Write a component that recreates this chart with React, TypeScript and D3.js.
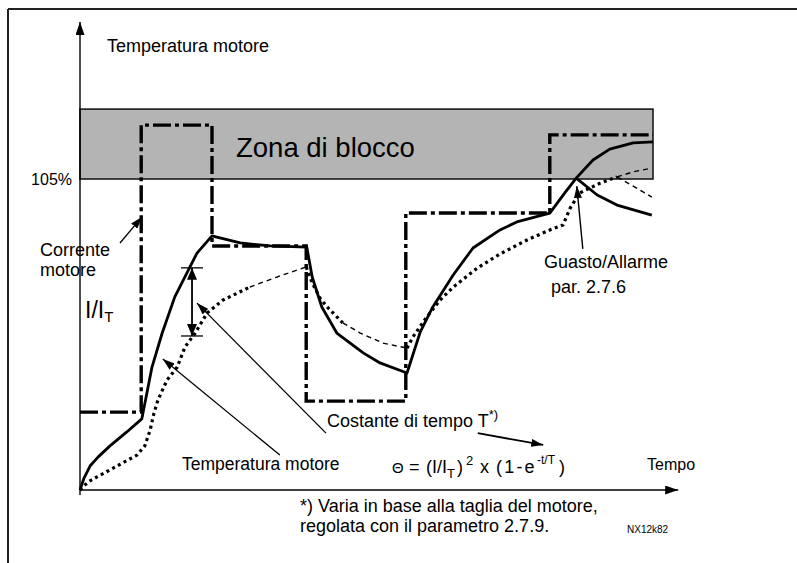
import React from 'react';
import * as d3 from 'd3';

const W = 797;
const H = 563;

// Time in arbitrary units (0..100), temperature / current in % (105 % = trip level)
const currentSteps: [number, number][] = [
  [0, 26.3], [10.2, 123.2], [22, 82.4], [37.7, 30], [54.3, 93.5], [78.3, 119.9], [95.5, 119.9],
];

const motorTemp: [number, number][] = [
  [0, 0], [0.67, 4.05], [1.67, 8.1], [3, 11.1], [5, 14.9], [7.8, 19.6], [10.3, 24.0],
  [12, 41.5], [13.7, 53.0], [15.8, 65.2], [19.5, 80.0], [22, 85.8], [22.8, 85.4],
  [26.7, 83.4], [31.7, 82.4], [37.8, 82.0], [38.7, 71.9], [40.3, 61.8], [42.8, 53.0],
  [47.2, 46.3], [50, 42.9], [54.5, 39.5], [56.7, 53.3], [58.8, 61.8], [62.2, 72.6],
  [65.5, 81.7], [70, 87.8], [72.8, 90.5], [78.3, 93.5], [80.8, 100.3], [82.7, 105.3],
  [85.5, 111.4], [88.3, 115.1], [92.2, 117.2], [95.5, 117.5],
];

const motorTempAfterTrip: [number, number][] = [
  [82.7, 105.3], [86.2, 99.6], [89.5, 96.2], [95.3, 92.8],
];

const thermalModel: [number, number][] = [
  [0, 0], [1.33, 2.7], [2.83, 4.4], [6.17, 8.1], [9.5, 11.8], [10.8, 14.9], [11.7, 20.3],
  [12.3, 25.7], [13, 30.4], [14.5, 37.1], [16.2, 41.5], [17.5, 48.3], [19.2, 53.0],
  [21.2, 59.8], [23.8, 64.1], [28.3, 68.5], [32.8, 71.9], [37.7, 75.3], [38.7, 69.9],
  [40, 64.8], [41.2, 61.8], [43.8, 56.4], [46.7, 53.0], [50.5, 49.6], [54.5, 47.9],
  [55.5, 51.7], [57.8, 58.4], [60, 64.1], [62.2, 68.5], [66.2, 74.9], [70, 79.7],
  [74.5, 84.4], [78.3, 87.8], [80.5, 89.5], [81.7, 95.2], [83.3, 100.3], [86.7, 103.6],
  [89.5, 105.7],
];

const thermalModelUp: [number, number][] = [[89.5, 105.7], [92.2, 107.4], [95.3, 108.7]];
const thermalModelDown: [number, number][] = [[89.5, 105.7], [92.2, 102.6], [95.3, 98.9]];

const tripLevel = 105;
const blockZoneTop = 128.6;
const blockZoneEnd = 95.5;
const yTickLabels = ['105%'];

const FONT = '"Liberation Sans", Arial, Helvetica, sans-serif';

export default function App() {
  const x = d3.scaleLinear().domain([0, 100]).range([80, 680]);
  const y = d3.scaleLinear().domain([0, 105]).range([490, 179]);

  const line = d3
    .line<[number, number]>()
    .x((d) => x(d[0]))
    .y((d) => y(d[1]))
    .curve(d3.curveLinear);
  const stepLine = d3
    .line<[number, number]>()
    .x((d) => x(d[0]))
    .y((d) => y(d[1]))
    .curve(d3.curveStepAfter);

  // style segments of the thermal model curve (thick dots vs thin dashes)
  const thickSegs = [thermalModel.slice(0, 16), thermalModel.slice(17, 22), thermalModel.slice(24)];
  const thinSegs = [thermalModel.slice(15, 18), thermalModel.slice(21, 25)];

  const arrow = (x1: number, y1: number, x2: number, y2: number, sw = 1.3, key?: string) => (
    <line
      key={key}
      x1={x(x1)}
      y1={y(y1)}
      x2={x(x2)}
      y2={y(y2)}
      stroke="#000"
      strokeWidth={sw}
      markerEnd="url(#ah)"
    />
  );

  const dblX = 18.67;

  return (
    <svg
      width={W}
      height={H}
      style={{ position: 'absolute', left: 0, top: 0, background: '#fff' }}
      fontFamily={FONT}
    >
      <defs>
        <marker id="ah" viewBox="0 0 12 8" refX="12" refY="4" markerWidth="12" markerHeight="8"
          markerUnits="userSpaceOnUse" orient="auto">
          <path d="M0,0 L12,4 L0,8 z" fill="#000" />
        </marker>
        <marker id="ah2" viewBox="0 0 12 10" refX="12" refY="5" markerWidth="12" markerHeight="10"
          markerUnits="userSpaceOnUse" orient="auto">
          <path d="M0,0 L12,5 L0,10 z" fill="#000" />
        </marker>
        <marker id="axh" viewBox="0 0 13 9" refX="13" refY="4.5" markerWidth="13" markerHeight="9"
          markerUnits="userSpaceOnUse" orient="auto">
          <path d="M0,0 L13,4.5 L0,9 z" fill="#000" />
        </marker>
      </defs>

      {/* frame */}
      <line x1={8} y1={9} x2={W} y2={9} stroke="#222" strokeWidth={2} />
      <line x1={8} y1={9} x2={8} y2={H} stroke="#222" strokeWidth={2} />

      {/* block zone */}
      <rect
        x={x(0)}
        y={y(blockZoneTop)}
        width={x(blockZoneEnd) - x(0)}
        height={y(tripLevel) - y(blockZoneTop)}
        fill="#b4b4b4"
        stroke="#1a1a1a"
        strokeWidth={1.6}
      />
      <text x={236} y={157} fontSize={27.5} fill="#000">Zona di blocco</text>

      {/* axes */}
      <line x1={x(0)} y1={y(-1.7)} x2={x(0)} y2={y(158)} stroke="#000" strokeWidth={1.4} markerEnd="url(#axh)" />
      <line x1={x(0)} y1={y(0)} x2={x(99.7)} y2={y(0)} stroke="#000" strokeWidth={1.4} markerEnd="url(#axh)" />

      <text x={72} y={y(tripLevel) + 6} fontSize={16} textAnchor="end" fill="#000">{yTickLabels[0]}</text>

      {/* current (dash-dot step line) */}
      <path d={stepLine(currentSteps) || ''} fill="none" stroke="#000" strokeWidth={3.4}
        strokeDasharray="18,4,4,4" />

      {/* thermal model curve */}
      {thickSegs.map((s, i) => (
        <path key={'tk' + i} d={line(s) || ''} fill="none" stroke="#000" strokeWidth={3.2}
          strokeDasharray="3,3.5" />
      ))}
      {thinSegs.map((s, i) => (
        <path key={'tn' + i} d={line(s) || ''} fill="none" stroke="#000" strokeWidth={1.4}
          strokeDasharray="5,4" />
      ))}
      <path d={line(thermalModelUp) || ''} fill="none" stroke="#000" strokeWidth={1.4} strokeDasharray="5,4" />
      <path d={line(thermalModelDown) || ''} fill="none" stroke="#000" strokeWidth={1.4} strokeDasharray="5,4" />

      {/* motor temperature (solid) */}
      <path d={line(motorTemp) || ''} fill="none" stroke="#000" strokeWidth={2.8} strokeLinejoin="round" />
      <path d={line(motorTempAfterTrip) || ''} fill="none" stroke="#000" strokeWidth={2.8} strokeLinejoin="round" />

      {/* I/IT double arrow */}
      <line x1={x(dblX - 1.83)} x2={x(dblX + 1.83)} y1={y(75)} y2={y(75)} stroke="#000" strokeWidth={1.3} />
      <line x1={x(dblX - 1.83)} x2={x(dblX + 1.83)} y1={y(52)} y2={y(52)} stroke="#000" strokeWidth={1.3} />
      <line x1={x(dblX)} x2={x(dblX)} y1={y(63.5)} y2={y(75)} stroke="#000" strokeWidth={1.8} markerEnd="url(#ah2)" />
      <line x1={x(dblX)} x2={x(dblX)} y1={y(63.5)} y2={y(52)} stroke="#000" strokeWidth={1.8} markerEnd="url(#ah2)" />

      {/* annotation arrows */}
      {arrow(6.67, 83.4, 10.33, 92.2, 1.3, 'a1')}
      {arrow(33.3, 11.8, 13.8, 44.2, 1.3, 'a2')}
      {arrow(41, 19.2, 19.5, 63.1, 1.3, 'a3')}
      {arrow(66.3, 19.2, 77.2, 15.2, 1.8, 'a4')}
      {arrow(83.8, 81.4, 82.8, 102.6, 1.4, 'a5')}

      {/* labels */}
      <g fill="#000">
        <text x={107} y={52} fontSize={18}>Temperatura motore</text>
        <text x={40} y={256} fontSize={18}>Corrente</text>
        <text x={40} y={276} fontSize={18}>motore</text>
        <text x={85} y={318} fontSize={23}>
          I/I<tspan fontSize={15} dy={4}>T</tspan>
        </text>
        <text x={544} y={268} fontSize={18}>Guasto/Allarme</text>
        <text x={551} y={293} fontSize={18}>par. 2.7.6</text>
        <text x={182} y={470} fontSize={17.5}>Temperatura motore</text>
        <text x={327} y={427} fontSize={18}>
          Costante di tempo T<tspan fontSize={13} dy={-8}>*)</tspan>
        </text>
        <text y={473} fontSize={18}>
          <tspan x={392} fontSize={15}>Θ</tspan>
          <tspan x={409}>=</tspan>
          <tspan x={426}>(I/I</tspan>
          <tspan x={447} fontSize={13} dy={5}>T</tspan>
          <tspan x={457} dy={-5}>)</tspan>
          <tspan x={466} fontSize={13} dy={-8}>2</tspan>
          <tspan x={480} dy={8}>x</tspan>
          <tspan x={496} letterSpacing={2.2}>(1-e</tspan>
          <tspan x={537} fontSize={12} dy={-9}>-t/T</tspan>
          <tspan x={559} dy={9}>)</tspan>
        </text>
        <text x={647} y={470} fontSize={16}>Tempo</text>
        <text x={300} y={512} fontSize={18}>*) Varia in base alla taglia del motore,</text>
        <text x={300} y={532} fontSize={18}>regolata con il parametro 2.7.9.</text>
        <text x={627} y={533} fontSize={10}>NX12k82</text>
      </g>
    </svg>
  );
}
